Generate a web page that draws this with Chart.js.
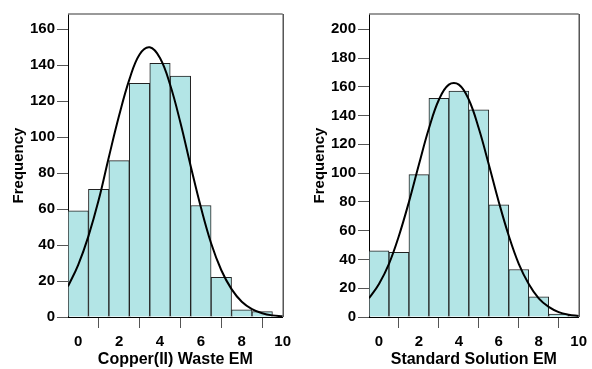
<!DOCTYPE html>
<html>
<head>
<meta charset="utf-8">
<script src="https://cdn.jsdelivr.net/npm/chart.js@4.4.1/dist/chart.umd.min.js"></script>
<style>
  html, body { margin: 0; padding: 0; background: #fff; }
  #wrap { width: 592px; height: 369px; display: flex; }
  .cell { width: 296px; height: 369px; position: relative; }
  canvas { display: block; }
</style>
</head>
<body>
<div id="wrap">
  <div class="cell"><canvas id="c1" width="296" height="369"></canvas></div>
  <div class="cell"><canvas id="c2" width="296" height="369"></canvas></div>
</div>
<script>
// ---- Data ----
const binCenters = [0, 1, 2, 3, 4, 5, 6, 7, 8, 9, 10];
const copperCounts = [59, 71, 87, 130, 141, 134, 62, 22, 4, 3, 0];
const standardCounts = [46, 45, 99, 152, 157, 144, 78, 33, 14, 2, 1];

const curveX = [-0.5, 0, 0.5, 1, 1.5, 2, 2.5, 3, 3.5, 4, 4.5, 5, 5.5, 6, 6.5, 7, 7.5, 8, 8.5, 9, 9.5, 10];
const copperCurve = [17, 29, 45, 65, 89, 112, 132, 146, 150, 144, 129, 108, 84, 61, 41, 26, 15.5, 8.5, 4.4, 2.1, 0.9, 0.4];
const standardCurve = [13, 23, 37, 56.5, 80, 106, 131, 151, 161.5, 161.5, 151, 131, 106, 80, 56.5, 37, 23, 13, 7, 3.4, 1.6, 0.7];

const xTicks = [0, 2, 4, 6, 8, 10];
const copperYMax = 168.5;
const standardYMax = 210.6;

const FONT = "'Liberation Sans', Arial, sans-serif";

const framePlugin = {
  id: 'frame',
  afterDatasetsDraw(chart) {
    const { ctx, chartArea: a } = chart;
    ctx.save();
    ctx.lineWidth = 1.5;
    ctx.strokeStyle = '#777';
    ctx.beginPath();
    ctx.moveTo(a.left, a.top);
    ctx.lineTo(a.right, a.top);
    ctx.stroke();
    ctx.strokeStyle = '#000';
    ctx.lineWidth = 1;
    ctx.beginPath();
    ctx.moveTo(a.right + 0.5, a.top);
    ctx.lineTo(a.right + 0.5, a.bottom);
    ctx.stroke();
    ctx.restore();
  }
};

function makeChart(id, counts, curve, yMax, xTitle, yWidth, padRight, yTitlePad) {
  const barData = binCenters.map((x, i) => ({ x: x, y: counts[i] }));
  const lineData = curveX.map((x, i) => ({ x: x, y: curve[i] }));
  return new Chart(document.getElementById(id), {
    type: 'bar',
    data: {
      datasets: [
        {
          type: 'line',
          data: lineData,
          borderColor: '#000',
          borderWidth: 2,
          pointRadius: 0,
          tension: 0.4,
          fill: false,
          order: 0
        },
        {
          type: 'bar',
          data: barData,
          backgroundColor: '#b3e5e6',
          borderColor: '#222',
          borderWidth: 1,
          barPercentage: 1,
          categoryPercentage: 1,
          grouped: false,
          order: 1
        }
      ]
    },
    options: {
      responsive: false,
      animation: false,
      devicePixelRatio: 1,
      layout: { padding: { left: 0, top: 14, right: padRight, bottom: 0 } },
      plugins: { legend: { display: false }, tooltip: { enabled: false } },
      scales: {
        x: {
          type: 'linear',
          min: -0.5,
          max: 10,
          offset: false,
          afterBuildTicks: s => { s.ticks = xTicks.map(v => ({ value: v })); },
          afterFit: s => { s.height = 52; },
          grid: { drawOnChartArea: false, drawTicks: true, tickLength: 11, tickColor: '#555', tickWidth: 1 },
          border: { display: true, color: '#000', width: 1 },
          ticks: { color: '#000', padding: 5, maxRotation: 0, font: { family: FONT, size: 15, weight: 'bold' } },
          title: { display: true, text: xTitle, color: '#000', padding: { top: 0, bottom: 0 }, font: { family: FONT, size: 16, weight: 'bold' } }
        },
        y: {
          min: 0,
          max: yMax,
          afterFit: s => { s.width = yWidth; },
          grid: { drawOnChartArea: false, drawTicks: true, tickLength: 11, tickColor: '#555', tickWidth: 1 },
          border: { display: true, color: '#000', width: 1 },
          ticks: { stepSize: 20, includeBounds: false, color: '#000', padding: 2, font: { family: FONT, size: 15, weight: 'bold' } },
          title: { display: true, text: 'Frequency', color: '#000', padding: { top: yTitlePad, bottom: 0 }, font: { family: FONT, size: 15, weight: 'bold' } }
        }
      }
    },
    plugins: [framePlugin]
  });
}

makeChart('c1', copperCounts, copperCurve, copperYMax, 'Copper(II) Waste EM', 68, 13, 10);
makeChart('c2', standardCounts, standardCurve, standardYMax, 'Standard Solution EM', 73, 9, 15);
</script>
</body>
</html>
